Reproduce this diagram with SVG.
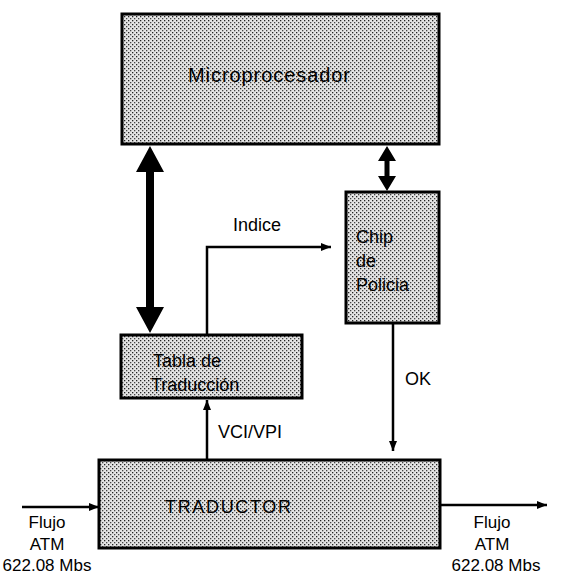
<svg xmlns="http://www.w3.org/2000/svg" width="570" height="576" viewBox="0 0 570 576">
<style>
.box{fill:url(#stip);stroke:#000;stroke-width:3}
.t{font-family:"Liberation Sans",Arial,sans-serif;font-size:18px;fill:#000}
.s{font-size:17px}
.c{fill:none;stroke:#000;stroke-width:2.5}
</style>
<defs>
<pattern id="stip" width="4" height="4" patternUnits="userSpaceOnUse">
<rect width="4" height="4" fill="#e4e4e4"/>
<rect x="0" y="0" width="1.3" height="1.3" fill="#222"/>
<rect x="2" y="2" width="1.3" height="1.3" fill="#444"/>
</pattern>
<marker id="ah" viewBox="0 0 10 8" refX="10" refY="4" markerWidth="10" markerHeight="8" markerUnits="userSpaceOnUse" orient="auto">
<path d="M0,0L10,4L0,8z" fill="#000"/>
</marker>
</defs>
<g id="microprocesador">
<rect class="box" x="122" y="14" width="317" height="130"/>
<text class="t" x="188" y="82" style="font-size:20px" textLength="162">Microprocesador</text>
</g>
<g id="chip">
<rect class="box" x="346" y="192" width="93" height="131"/>
<text class="t" x="356" y="243">Chip</text>
<text class="t" x="356" y="267">de</text>
<text class="t" x="356" y="291">Policia</text>
</g>
<g id="tabla">
<rect class="box" x="121" y="335" width="181" height="63"/>
<text class="t" x="153" y="367">Tabla de</text>
<text class="t" x="151" y="391">Traducción</text>
</g>
<g id="traductor">
<rect class="box" x="99" y="460" width="341" height="88"/>
<text class="t" x="165" y="513" textLength="126">TRADUCTOR</text>
</g>
<g id="connectors">
<polygon points="150,146 164,172 154,172 154,307 164,307 150,333 136,307 146,307 146,172 136,172" fill="#000"/>
<polygon points="387,146 396,161 389.5,161 389.5,176 396,176 387,191 378,176 384.5,176 384.5,161 378,161" fill="#000"/>
<path class="c" d="M207,335V247H331" marker-end="url(#ah)"/>
<path class="c" d="M207,460V400" marker-end="url(#ah)"/>
<path class="c" d="M393,323V451" marker-end="url(#ah)"/>
<path class="c" d="M22,507H99" marker-end="url(#ah)"/>
<path class="c" d="M440,505H547" marker-end="url(#ah)"/>
</g>
<g id="labels">
<text class="t" x="233" y="231">Indice</text>
<text class="t" x="218" y="438">VCI/VPI</text>
<text class="t" x="405" y="385">OK</text>
<text class="t s" x="47" y="528" text-anchor="middle">Flujo</text>
<text class="t s" x="47" y="550" text-anchor="middle">ATM</text>
<text class="t s" x="47" y="571" text-anchor="middle">622.08 Mbs</text>
<text class="t s" x="492" y="528" text-anchor="middle">Flujo</text>
<text class="t s" x="492" y="550" text-anchor="middle">ATM</text>
<text class="t s" x="496" y="571" text-anchor="middle">622.08 Mbs</text>
</g>
</svg>
